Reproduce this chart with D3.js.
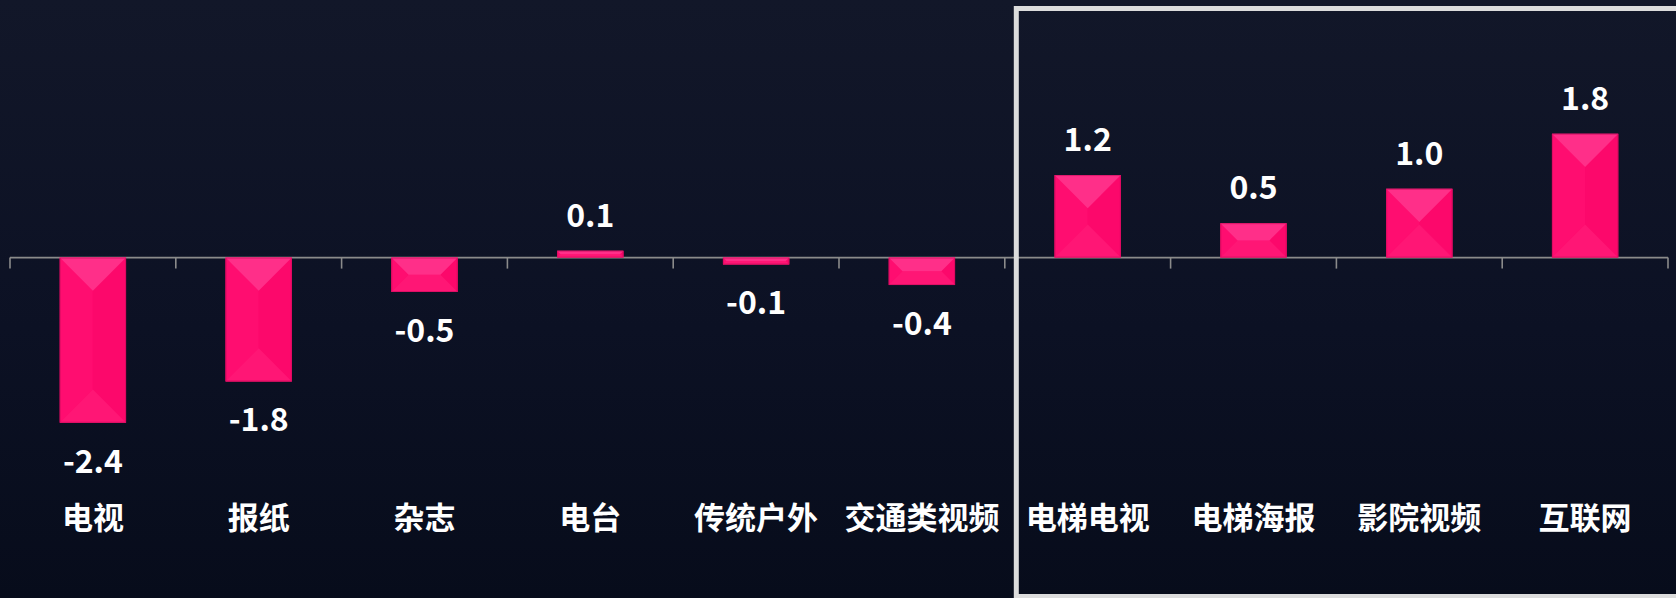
<!DOCTYPE html>
<html>
<head>
<meta charset="utf-8">
<script src="https://cdn.jsdelivr.net/npm/d3@7"></script>
<style>
	html, body { margin: 0; padding: 0; background: #0b1022; }
	svg { display: block; }
</style>
</head>
<body>
<svg id="chart"></svg>
<script>
// chart data
var categories = ["电视", "报纸", "杂志", "电台", "传统户外", "交通类视频", "电梯电视", "电梯海报", "影院视频", "互联网"];
var values = [-2.4, -1.8, -0.5, 0.1, -0.1, -0.4, 1.2, 0.5, 1.0, 1.8];
var valueLabels = ["-2.4", "-1.8", "-0.5", "0.1", "-0.1", "-0.4", "1.2", "0.5", "1.0", "1.8"];
var highlighted = ["电梯电视", "电梯海报", "影院视频", "互联网"];

var width = 1676,
	height = 598,
	font = "'Noto Sans CJK SC', 'Noto Sans', sans-serif";

var svg = d3.select("#chart")
	.attr("width", width)
	.attr("height", height);

var defs = svg.append("defs");
var bg = defs.append("linearGradient")
	.attr("id", "bg")
	.attr("x1", 0).attr("y1", 0).attr("x2", 0).attr("y2", 1);
bg.append("stop").attr("offset", "0%").attr("stop-color", "#121729");
bg.append("stop").attr("offset", "55%").attr("stop-color", "#0c1124");
bg.append("stop").attr("offset", "100%").attr("stop-color", "#070c1b");

svg.append("rect")
	.attr("width", width)
	.attr("height", height)
	.attr("fill", "url(#bg)");

var x = d3.scaleBand()
	.domain(categories)
	.range([10, 1668])
	.padding(0);

var y = d3.scaleLinear()
	.domain([-3, 3.5])
	.range([464.0, 16.8]);

var barW = x.bandwidth() * 0.4;

// axis line + ticks at band edges
var axis = svg.append("g")
	.attr("stroke", "#8b8b8b")
	.attr("stroke-width", 1.6);

axis.append("line")
	.attr("x1", x.range()[0])
	.attr("x2", x.range()[1])
	.attr("y1", y(0))
	.attr("y2", y(0));

var edges = categories.map(c => x(c)).concat([x.range()[1]]);
axis.selectAll("line.tick")
	.data(edges)
	.join("line")
	.attr("class", "tick")
	.attr("x1", d => d)
	.attr("x2", d => d)
	.attr("y1", y(0))
	.attr("y2", y(0) + 11);

// bevelled bars
var bars = svg.append("g")
	.selectAll("g")
	.data(values.map((v, i) => ({ cat: categories[i], v: v, label: valueLabels[i] })))
	.join("g");

function bevel(d) {
	var bx = x(d.cat) + (x.bandwidth() - barW) / 2,
		by = Math.min(y(d.v), y(0)),
		bh = Math.abs(y(d.v) - y(0)),
		k = Math.min(barW, bh) / 2;
	return [
		{ fill: "#ff096d", pts: [[bx, by], [bx + barW, by], [bx + barW, by + bh], [bx, by + bh]] },
		{ fill: "#ff0d70", pts: [[bx, by], [bx + k, by + k], [bx + k, by + bh - k], [bx, by + bh]] },
		{ fill: "#fc086b", pts: [[bx + barW, by], [bx + barW - k, by + k], [bx + barW - k, by + bh - k], [bx + barW, by + bh]] },
		{ fill: "#ff1675", pts: [[bx, by + bh], [bx + barW, by + bh], [bx + barW - k, by + bh - k], [bx + k, by + bh - k]] },
		{ fill: "#ff2f89", pts: [[bx, by], [bx + barW, by], [bx + barW - k, by + k], [bx + k, by + k]] }
	];
}

bars.selectAll("polygon")
	.data(d => bevel(d))
	.join("polygon")
	.attr("points", p => p.pts.map(q => q.join(",")).join(" "))
	.attr("fill", p => p.fill);

bars.append("rect")
	.attr("x", d => x(d.cat) + (x.bandwidth() - barW) / 2 + 0.5)
	.attr("y", d => Math.min(y(d.v), y(0)) + 0.5)
	.attr("width", barW - 1)
	.attr("height", d => Math.max(0, Math.abs(y(d.v) - y(0)) - 1))
	.attr("fill", "none")
	.attr("stroke", "#c80c5a")
	.attr("stroke-opacity", 0.6)
	.attr("stroke-width", 1);

// value labels
svg.append("g")
	.selectAll("text")
	.data(values.map((v, i) => ({ cat: categories[i], v: v, label: valueLabels[i] })))
	.join("text")
	.attr("x", d => x(d.cat) + x.bandwidth() / 2)
	.attr("y", d => d.v >= 0 ? y(d.v) - 24 : y(d.v) + 50)
	.attr("text-anchor", "middle")
	.attr("fill", "#ffffff")
	.attr("font-family", font)
	.attr("font-weight", "bold")
	.attr("font-size", "32px")
	.text(d => d.label);

// category labels
svg.append("g")
	.selectAll("text")
	.data(categories)
	.join("text")
	.attr("x", d => x(d) + x.bandwidth() / 2)
	.attr("y", 529)
	.attr("text-anchor", "middle")
	.attr("fill", "#ffffff")
	.attr("font-family", font)
	.attr("font-weight", "bold")
	.attr("font-size", "31px")
	.text(d => d);

// highlight frame around the new-media group
svg.append("rect")
	.attr("x", x(highlighted[0]) + 11.5)
	.attr("y", 8.5)
	.attr("width", 700)
	.attr("height", 588)
	.attr("fill", "none")
	.attr("stroke", "#dcdcdc")
	.attr("stroke-width", 5);
</script>
</body>
</html>
